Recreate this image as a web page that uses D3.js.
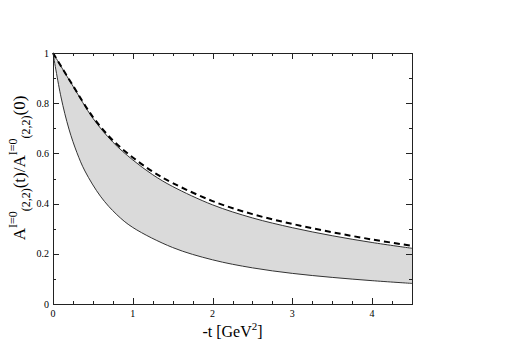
<!DOCTYPE html>
<html>
<head>
<meta charset="utf-8">
<script src="https://cdn.jsdelivr.net/npm/d3@7"></script>
<style>
	body { margin: 0; background: #fff; }
</style>
</head>
<body>
<div id="chart"></div>
<script>
// -t values and ratios
const upperT = [0, 0.25, 0.5, 0.75, 1, 1.25, 1.5, 2, 2.5, 3, 3.5, 4, 4.5];
const upperA = [1, 0.868, 0.74, 0.645, 0.574, 0.515, 0.468, 0.395, 0.343, 0.304, 0.272, 0.245, 0.222];

const lowerT = [0, 0.1, 0.2, 0.3, 0.4, 0.6, 0.8, 1, 1.5, 2, 2.5, 3, 3.5, 4, 4.5];
const lowerA = [1, 0.825, 0.697, 0.603, 0.53, 0.427, 0.356, 0.305, 0.225, 0.176, 0.144, 0.122, 0.106, 0.093, 0.082];

const dashT = [0, 0.25, 0.5, 0.75, 1, 1.25, 1.5, 2, 2.5, 3, 3.5, 4, 4.5];
const dashA = [1, 0.87, 0.745, 0.652, 0.584, 0.527, 0.482, 0.41, 0.358, 0.319, 0.286, 0.257, 0.232];

const xTicks = [0, 1, 2, 3, 4];
const yTicks = [0, 0.2, 0.4, 0.6, 0.8, 1];

(function (d3) {
	"use strict";
	const width = 507, height = 358;
	const margin = { top: 53, right: 95, bottom: 54, left: 53 };
	const plotW = width - margin.left - margin.right;
	const plotH = height - margin.top - margin.bottom;
	const serif = "'Liberation Serif', 'Times New Roman', Times, serif";

	const svg = d3.select("#chart").append("svg")
		.attr("width", width)
		.attr("height", height)
		.attr("font-family", serif)
		.style("font-family", serif);
	const g = svg.append("g")
		.attr("transform", "translate(" + margin.left + "," + margin.top + ")");

	const x = d3.scaleLinear().domain([0, 4.5]).range([0, plotW]);
	const y = d3.scaleLinear().domain([0, 1]).range([plotH, 0]);

	const upperPts = upperT.map((t, i) => [t, upperA[i]]);
	const lowerPts = lowerT.map((t, i) => [t, lowerA[i]]);
	const dashPts = dashT.map((t, i) => [t, dashA[i]]);

	const line = d3.line()
		.x(d => x(d[0]))
		.y(d => y(d[1]))
		.curve(d3.curveCatmullRom.alpha(0.5));

	// band: upper curve forward, lower curve backward
	const upperPath = line(upperPts);
	const lowerRev = line(lowerPts.slice().reverse());
	g.append("path")
		.attr("d", upperPath + "L" + lowerRev.slice(1) + "Z")
		.attr("fill", "#dadada")
		.attr("stroke", "none");

	g.append("path").attr("d", upperPath)
		.attr("fill", "none").attr("stroke", "#333").attr("stroke-width", 1);
	g.append("path").attr("d", line(lowerPts))
		.attr("fill", "none").attr("stroke", "#333").attr("stroke-width", 1);
	g.append("path").attr("d", line(dashPts))
		.attr("fill", "none").attr("stroke", "#000").attr("stroke-width", 2)
		.attr("stroke-dasharray", "6,4");

	// frame
	g.append("rect")
		.attr("x", 0.5).attr("y", 0.5)
		.attr("width", plotW).attr("height", plotH)
		.attr("fill", "none").attr("stroke", "#222").attr("stroke-width", 1);

	// ticks, inward on all four sides
	const xMinor = d3.range(0, 4.5001, 0.25);
	const yMinor = d3.range(0, 1.0001, 0.1);
	const tickG = g.append("g").attr("stroke", "#222").attr("stroke-width", 1);
	xMinor.forEach(function (t) {
		const len = xTicks.includes(t) ? 6 : 3;
		const px = Math.round(x(t)) + 0.5;
		tickG.append("line").attr("x1", px).attr("x2", px).attr("y1", plotH).attr("y2", plotH - len);
		tickG.append("line").attr("x1", px).attr("x2", px).attr("y1", 0).attr("y2", len);
	});
	yMinor.forEach(function (v) {
		const major = yTicks.some(m => Math.abs(m - v) < 1e-6);
		const len = major ? 6 : 3;
		const py = Math.round(y(v)) + 0.5;
		tickG.append("line").attr("x1", 0).attr("x2", len).attr("y1", py).attr("y2", py);
		tickG.append("line").attr("x1", plotW).attr("x2", plotW - len).attr("y1", py).attr("y2", py);
	});

	// tick labels
	g.selectAll(".xl").data(xTicks).enter().append("text")
		.attr("x", d => x(d))
		.attr("y", plotH + 13)
		.attr("text-anchor", "middle")
		.attr("font-size", 10)
		.text(d => d);
	g.selectAll(".yl").data(yTicks).enter().append("text")
		.attr("x", -4)
		.attr("y", d => y(d) + 3.5)
		.attr("text-anchor", "end")
		.attr("font-size", 10)
		.text(d => d);

	// x axis title
	const xt = svg.append("text")
		.attr("x", margin.left + plotW / 2)
		.attr("y", 337)
		.attr("text-anchor", "middle")
		.attr("font-size", 16);
	xt.append("tspan").text("-t [GeV");
	xt.append("tspan").attr("font-size", 11).attr("dy", -7).text("2");
	xt.append("tspan").attr("dy", 7).text("]");

	// y axis title
	const yt = svg.append("text")
		.attr("transform", "translate(25,168) rotate(-90)")
		.attr("text-anchor", "middle")
		.attr("font-size", 17);
	yt.append("tspan").text("A");
	yt.append("tspan").attr("font-size", 12).attr("dy", -8).text("I=0");
	yt.append("tspan").attr("font-size", 12).attr("dy", 13).text("(2,2)");
	yt.append("tspan").attr("dy", -5).text("(t)/A");
	yt.append("tspan").attr("font-size", 12).attr("dy", -8).text("I=0");
	yt.append("tspan").attr("font-size", 12).attr("dy", 13).text("(2,2)");
	yt.append("tspan").attr("dy", -5).text("(0)");
})(d3);
</script>
</body>
</html>
